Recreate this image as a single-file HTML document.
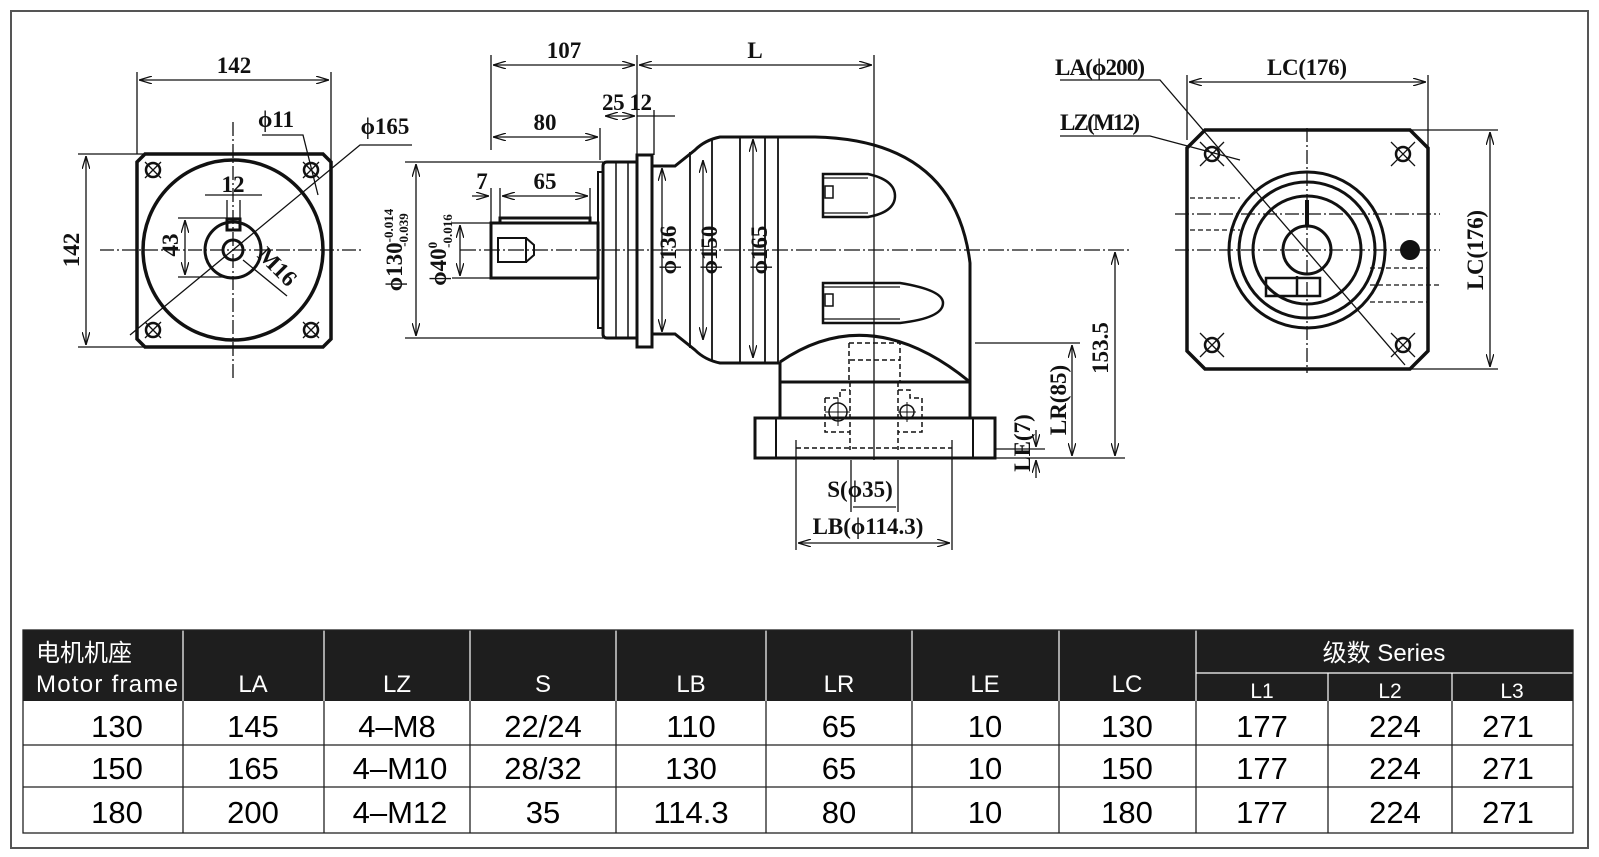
<!DOCTYPE html>
<html><head><meta charset="utf-8"><style>
html,body{margin:0;padding:0;background:#fff}
svg{display:block}
.t{font-family:"Liberation Serif",serif;font-size:23px;font-weight:bold;fill:#111}
.s{font-family:"Liberation Sans","Noto Sans CJK SC",sans-serif}
</style></head><body>
<svg width="1599" height="857" viewBox="0 0 1599 857" xmlns="http://www.w3.org/2000/svg">
<defs>
<marker id="a" viewBox="0 0 10 6" refX="10" refY="3" markerWidth="10" markerHeight="6" orient="auto-start-reverse"><path d="M0,0 L10,3 L0,6" fill="none" stroke="#111" stroke-width="1"/></marker>
</defs>
<rect x="11" y="11" width="1577" height="837" fill="none" stroke="#555" stroke-width="2"/>

<!-- LEFT VIEW -->
<g stroke="#111" fill="none">
<path d="M145,154 L323,154 L331,162 L331,339 L323,347 L145,347 L137,339 L137,162 Z" stroke-width="3.5"/>
<circle cx="233" cy="250" r="90" stroke-width="3.5"/>
<circle cx="233" cy="250" r="28" stroke-width="3"/>
<circle cx="233" cy="250" r="10" stroke-width="3"/>
<rect x="227" y="219" width="13" height="11" stroke-width="3"/>
<g stroke-width="2.5"><circle cx="153" cy="170" r="7"/><circle cx="311" cy="170" r="7"/><circle cx="153" cy="330" r="7"/><circle cx="311" cy="330" r="7"/></g>
<g stroke-width="1.3">
<path d="M145,162l16,16M161,162l-16,16M303,162l16,16M319,162l-16,16M145,322l16,16M161,322l-16,16M303,322l16,16M319,322l-16,16"/>
<path d="M100,250 H362 M233,122 V378" stroke-dasharray="14,3,2,3"/>
<path d="M137,72 V154 M331,72 V160"/>
<line x1="139" y1="80" x2="329" y2="80" marker-start="url(#a)" marker-end="url(#a)"/>
<path d="M78,154 H145 M78,347 H145"/>
<line x1="86" y1="156" x2="86" y2="345" marker-start="url(#a)" marker-end="url(#a)"/>
<path d="M262,135 H303 L318,195"/>
<path d="M130,335 L360,145 H412"/>
<path d="M178,218 H240 M178,277 H240"/>
<line x1="185" y1="220" x2="185" y2="275" marker-start="url(#a)" marker-end="url(#a)"/>
<path d="M227,200 V219 M240,200 V219 M205,195 H262"/>
<path d="M243,260 L287,296"/>
</g>
</g>
<text class="t" x="234" y="73" text-anchor="middle">142</text>
<text class="t" x="276" y="127" text-anchor="middle">ϕ11</text>
<text class="t" x="385" y="134" text-anchor="middle">ϕ165</text>
<text class="t" x="233" y="192" text-anchor="middle">12</text>
<text class="t" transform="translate(79,250) rotate(-90)" text-anchor="middle">142</text>
<text class="t" transform="translate(178,245) rotate(-90)" text-anchor="middle">43</text>
<text class="t" transform="translate(272,272) rotate(45)" text-anchor="middle" font-size="20">M16</text>

<!-- MIDDLE VIEW -->
<g stroke="#111" fill="none">
<g stroke-width="1.3">
<path d="M491,55 V150 M637,55 V160 M874,55 V460"/>
<line x1="493" y1="65" x2="635" y2="65" marker-start="url(#a)" marker-end="url(#a)"/>
<line x1="639" y1="65" x2="872" y2="65" marker-start="url(#a)" marker-end="url(#a)"/>
<line x1="493" y1="137" x2="598" y2="137" marker-start="url(#a)" marker-end="url(#a)"/>
<path d="M600,128 V160 M654,110 V155"/>
<line x1="605" y1="116" x2="635" y2="116" marker-start="url(#a)" marker-end="url(#a)"/>
<path d="M637,116 H675"/>
<line x1="472" y1="196" x2="489" y2="196" marker-end="url(#a)"/>
<path d="M500,188 V218 M590,188 V218 M491,188 V223"/>
<line x1="502" y1="196" x2="588" y2="196" marker-start="url(#a)" marker-end="url(#a)"/>
<path d="M405,162 H603 M405,338 H603"/>
<line x1="416" y1="164" x2="416" y2="336" marker-start="url(#a)" marker-end="url(#a)"/>
<path d="M452,223 H491 M452,278 H491"/>
<line x1="460" y1="225" x2="460" y2="276" marker-start="url(#a)" marker-end="url(#a)"/>
<line x1="662" y1="168" x2="662" y2="332" marker-start="url(#a)" marker-end="url(#a)"/>
<line x1="703" y1="160" x2="703" y2="340" marker-start="url(#a)" marker-end="url(#a)"/>
<line x1="753" y1="139" x2="753" y2="358" marker-start="url(#a)" marker-end="url(#a)"/>
<path d="M460,250 H1130" stroke-dasharray="16,3,2,3"/>
<path d="M851,460 V512 M898,460 V512 M796,440 V550 M952,440 V550"/>
<line x1="853" y1="507" x2="896" y2="507"/>
<line x1="798" y1="543" x2="950" y2="543" marker-start="url(#a)" marker-end="url(#a)"/>
<path d="M975,343 H1080 M995,458 H1125 M995,449 H1045"/>
<line x1="1072" y1="345" x2="1072" y2="456" marker-start="url(#a)" marker-end="url(#a)"/>
<line x1="1115" y1="252" x2="1115" y2="456" marker-start="url(#a)" marker-end="url(#a)"/>
<line x1="1036" y1="430" x2="1036" y2="447" marker-end="url(#a)"/>
<line x1="1036" y1="478" x2="1036" y2="460" marker-end="url(#a)"/>
</g>
<g stroke-width="3">
<rect x="491" y="223" width="107" height="55"/>
<path d="M500,223 V218 H590 V223"/>
<rect x="498" y="238" width="28" height="24" stroke-width="2"/>
<path d="M526,238 L534,245 V255 L526,262" stroke-width="2"/>
<rect x="598" y="172" width="5" height="156" stroke-width="2"/>
<path d="M607,162 H637 V338 H607 Q603,338 603,334 V166 Q603,162 607,162 Z"/>
<path d="M616,162 V338 M628,162 V338" stroke-width="1.5"/>
<rect x="637" y="155" width="15" height="192"/>
<path d="M652,166 H675 L695,150 Q705,140 720,137 H815 Q955,140 970,263 V382 M652,334 H675 L695,350 Q705,360 720,363 H780"/>
<path d="M690,152 V348 M712,140 V360 M740,137 V363 M765,137 V363 M778,137 V363" stroke-width="1.8"/>
<path d="M780,362 V418 M780,362 Q870,300 970,382 M780,382 H970 M970,382 V418"/>
<rect x="755" y="418" width="240" height="40"/>
<path d="M776,418 V458 M973,418 V458" stroke-width="2"/>
<path d="M823,174 H868 Q895,180 895,196 Q895,212 868,217 H823 Z M823,283 H900 Q943,290 943,303 Q943,318 900,323 H823 Z" stroke-width="2.5"/>
<path d="M823,178 H868 M823,213 H868 M823,287 H900 M823,319 H900" stroke-width="1.3"/>
<rect x="825" y="186" width="8" height="12" stroke-width="1.5"/>
<rect x="825" y="294" width="8" height="12" stroke-width="1.5"/>
</g>
<g stroke-width="1.5" stroke-dasharray="5,3">
<path d="M849,343 H900 V382 M849,343 V382 M850,360 H900"/>
<path d="M850,382 V450 M898,382 V450"/>
<path d="M825,398 H840 V390 H850 M825,398 V432 H850 M898,390 H910 V398 H922 V432 H898"/>
<path d="M796,448 H952"/>
</g>
<circle cx="838" cy="412" r="9" stroke-width="1.5"/>
<circle cx="907" cy="412" r="7" stroke-width="1.5"/>
<path d="M825,412 H850 M838,398 V426 M898,412 H916 M907,402 V422" stroke-width="1"/>
</g>
<text class="t" x="564" y="58" text-anchor="middle">107</text>
<text class="t" x="755" y="58" text-anchor="middle">L</text>
<text class="t" x="545" y="130" text-anchor="middle">80</text>
<text class="t" x="627" y="110" text-anchor="middle" textLength="50">25 12</text>
<text class="t" x="482" y="189" text-anchor="middle">7</text>
<text class="t" x="545" y="189" text-anchor="middle">65</text>
<text class="t" transform="translate(402,250) rotate(-90)" text-anchor="middle">ϕ130<tspan font-size="13" dy="-9">-0.014</tspan><tspan font-size="13" dx="-38" dy="15">-0.039</tspan></text>
<text class="t" transform="translate(446,250) rotate(-90)" text-anchor="middle">ϕ40<tspan font-size="13" dy="-9">0</tspan><tspan font-size="13" dx="-6" dy="15">-0.016</tspan></text>
<text class="t" transform="translate(676,250) rotate(-90)" text-anchor="middle">ϕ136</text>
<text class="t" transform="translate(717,250) rotate(-90)" text-anchor="middle">ϕ150</text>
<text class="t" transform="translate(767,250) rotate(-90)" text-anchor="middle">ϕ165</text>
<text class="t" transform="translate(1108,348) rotate(-90)" text-anchor="middle">153.5</text>
<text class="t" transform="translate(1066,400) rotate(-90)" text-anchor="middle">LR(85)</text>
<text class="t" transform="translate(1030,443) rotate(-90)" text-anchor="middle">LE(7)</text>
<text class="t" x="860" y="497" text-anchor="middle">S(ϕ35)</text>
<text class="t" x="868" y="534" text-anchor="middle">LB(ϕ114.3)</text>

<!-- RIGHT VIEW -->
<g stroke="#111" fill="none">
<path d="M1205,130 H1410 L1428,148 V351 L1410,369 H1205 L1187,351 V148 Z" stroke-width="3.5"/>
<circle cx="1307" cy="250" r="78" stroke-width="3"/>
<circle cx="1307" cy="250" r="68" stroke-width="3"/>
<circle cx="1307" cy="250" r="54" stroke-width="3"/>
<circle cx="1307" cy="250" r="24" stroke-width="3"/>
<circle cx="1410" cy="250" r="9" fill="#111" stroke-width="2"/>
<path d="M1266,278 H1320 V296 H1266 Z M1297,276 V296" stroke-width="2.5"/>
<path d="M1307,200 V226" stroke-width="4"/>
<g stroke-width="2.5"><circle cx="1212" cy="154" r="7"/><circle cx="1403" cy="154" r="7"/><circle cx="1212" cy="345" r="7"/><circle cx="1403" cy="345" r="7"/></g>
<g stroke-width="1.3">
<path d="M1200,142l24,24M1224,142l-24,24M1391,142l24,24M1415,142l-24,24M1200,333l24,24M1224,333l-24,24M1391,333l24,24M1415,333l-24,24"/>
<path d="M1175,214 H1440 M1175,250 H1440 M1307,128 V373" stroke-dasharray="14,3,2,3"/>
<path d="M1190,198 H1240 M1190,230 H1240 M1370,268 H1428 M1370,285 H1440 M1370,302 H1428" stroke-dasharray="5,3"/>
<path d="M1187,75 V140 M1428,75 V148"/>
<line x1="1189" y1="82" x2="1426" y2="82" marker-start="url(#a)" marker-end="url(#a)"/>
<path d="M1410,130 H1498 M1410,369 H1498"/>
<line x1="1490" y1="132" x2="1490" y2="367" marker-start="url(#a)" marker-end="url(#a)"/>
<path d="M1060,80 H1160 L1405,365"/>
<path d="M1060,136 H1150 L1240,160"/>
</g>
</g>
<text class="t" x="1100" y="75" text-anchor="middle" textLength="90">LA(ϕ200)</text>
<text class="t" x="1100" y="130" text-anchor="middle" textLength="80">LZ(M12)</text>
<text class="t" x="1307" y="75" text-anchor="middle" textLength="80">LC(176)</text>
<text class="t" transform="translate(1483,250) rotate(-90)" text-anchor="middle" textLength="80">LC(176)</text>

<!-- TABLE -->
<rect x="23" y="630" width="1550" height="71" fill="#1e1e1e"/>
<g stroke="#fff" stroke-width="1.2">
<path d="M183,630V701M324,630V701M470,630V701M616,630V701M766,630V701M912,630V701M1059,630V701M1196,630V701M1196,673H1573M1328,673V701M1452,673V701"/>
</g>
<g stroke="#222" stroke-width="1.3" fill="none">
<rect x="23" y="630" width="1550" height="203"/>
<path d="M23,745H1573M23,787H1573M183,701V833M324,701V833M470,701V833M616,701V833M766,701V833M912,701V833M1059,701V833M1196,701V833M1328,701V833M1452,701V833"/>
</g>
<g class="s" fill="#fff" font-size="24" text-anchor="middle">
<text x="36" y="661" text-anchor="start">电机机座</text>
<text x="36" y="692" text-anchor="start" textLength="142">Motor frame</text>
<text x="253" y="692">LA</text><text x="397" y="692">LZ</text><text x="543" y="692">S</text>
<text x="691" y="692">LB</text><text x="839" y="692">LR</text><text x="985" y="692">LE</text>
<text x="1127" y="692">LC</text>
<text x="1384" y="661">级数   Series</text>
<text x="1262" y="698" font-size="21">L1</text><text x="1390" y="698" font-size="21">L2</text><text x="1512" y="698" font-size="21">L3</text>
</g>
<g class="s" fill="#000" font-size="31" text-anchor="middle">
<text x="117" y="737">130</text><text x="253" y="737">145</text><text x="397" y="737">4–M8</text><text x="543" y="737">22/24</text><text x="691" y="737">110</text><text x="839" y="737">65</text><text x="985" y="737">10</text><text x="1127" y="737">130</text><text x="1262" y="737">177</text><text x="1395" y="737">224</text><text x="1508" y="737">271</text>
<text x="117" y="779">150</text><text x="253" y="779">165</text><text x="400" y="779">4–M10</text><text x="543" y="779">28/32</text><text x="691" y="779">130</text><text x="839" y="779">65</text><text x="985" y="779">10</text><text x="1127" y="779">150</text><text x="1262" y="779">177</text><text x="1395" y="779">224</text><text x="1508" y="779">271</text>
<text x="117" y="823">180</text><text x="253" y="823">200</text><text x="400" y="823">4–M12</text><text x="543" y="823">35</text><text x="691" y="823">114.3</text><text x="839" y="823">80</text><text x="985" y="823">10</text><text x="1127" y="823">180</text><text x="1262" y="823">177</text><text x="1395" y="823">224</text><text x="1508" y="823">271</text>
</g>
</svg>
</body></html>
